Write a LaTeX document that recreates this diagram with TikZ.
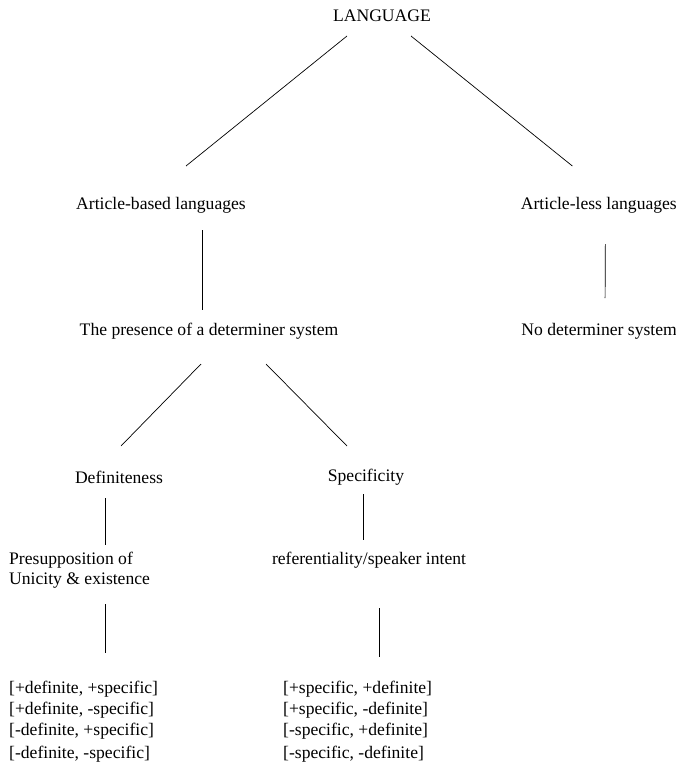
\documentclass[tikz,border=0pt]{standalone}
\usepackage{fontspec}
\setmainfont{Liberation Serif}
\usetikzlibrary{calc}
\begin{document}
\begin{tikzpicture}[x=1pt,y=-1pt,
  lbl/.style={inner sep=0pt, font=\fontsize{17.6}{21}\selectfont},
  blk/.style={lbl, align=left},
  edge/.style={draw=black, line width=0.7pt}]
\useasboundingbox (0,0) rectangle (676,768);
\node[lbl] (lang) at (382,16) {LANGUAGE};
\node[lbl] (abl) at (161,205) {Article-based languages};
\node[lbl,anchor=east] (all) at (677,205) {Article-less languages};
\node[lbl] (pres) at (209,331) {The presence of a determiner system};
\node[lbl,anchor=east] (nodet) at (677,331) {No determiner system};
\node[lbl] (def) at (119,477) {Definiteness};
\node[lbl] (spec) at (366,477) {Specificity};
\node[blk,anchor=west,font=\fontsize{17.6}{20}\selectfont] (presup) at (9,570) {Presupposition of\\Unicity \& existence};
\node[lbl] (ref) at (369,560) {referentiality/speaker intent};
\node[blk,anchor=west] (listL) at (9,722) {[+definite, +specific]\\{}[+definite, -specific]\\{}[-definite, +specific]\\[2pt]{}[-definite, -specific]};
\node[blk,anchor=west] (listR) at (283,722) {[+specific, +definite]\\{}[+specific, -definite]\\{}[-specific, +definite]\\[2pt]{}[-specific, -definite]};
\draw[edge] ($(lang)+(-35,20)$) -- ($(abl)+(25,-39)$);
\draw[edge] ($(lang)+(29,20)$) -- ($(all)+(-26.5,-39)$);
\draw[edge] ($(abl)+(41,25)$) -- ($(pres)+(-7,-21)$);
\draw[edge] ($(all)+(6.5,39)$) -- ($(nodet)+(6,-33)$);
\draw[edge] ($(pres)+(-8,33)$) -- ($(def)+(2,-31)$);
\draw[edge] ($(pres)+(57,33)$) -- ($(spec)+(-19,-31)$);
\draw[edge] ($(def)+(-14,21)$) -- ($(presup.west)+(96,-25)$);
\draw[edge] ($(spec)+(-3,17)$) -- ($(ref)+(-6,-20)$);
\draw[edge] ($(presup.west)+(96,34)$) -- ($(listL.west)+(96,-69)$);
\draw[edge] ($(ref)+(10,48)$) -- ($(listR.west)+(96,-65)$);
\end{tikzpicture}
\end{document}
